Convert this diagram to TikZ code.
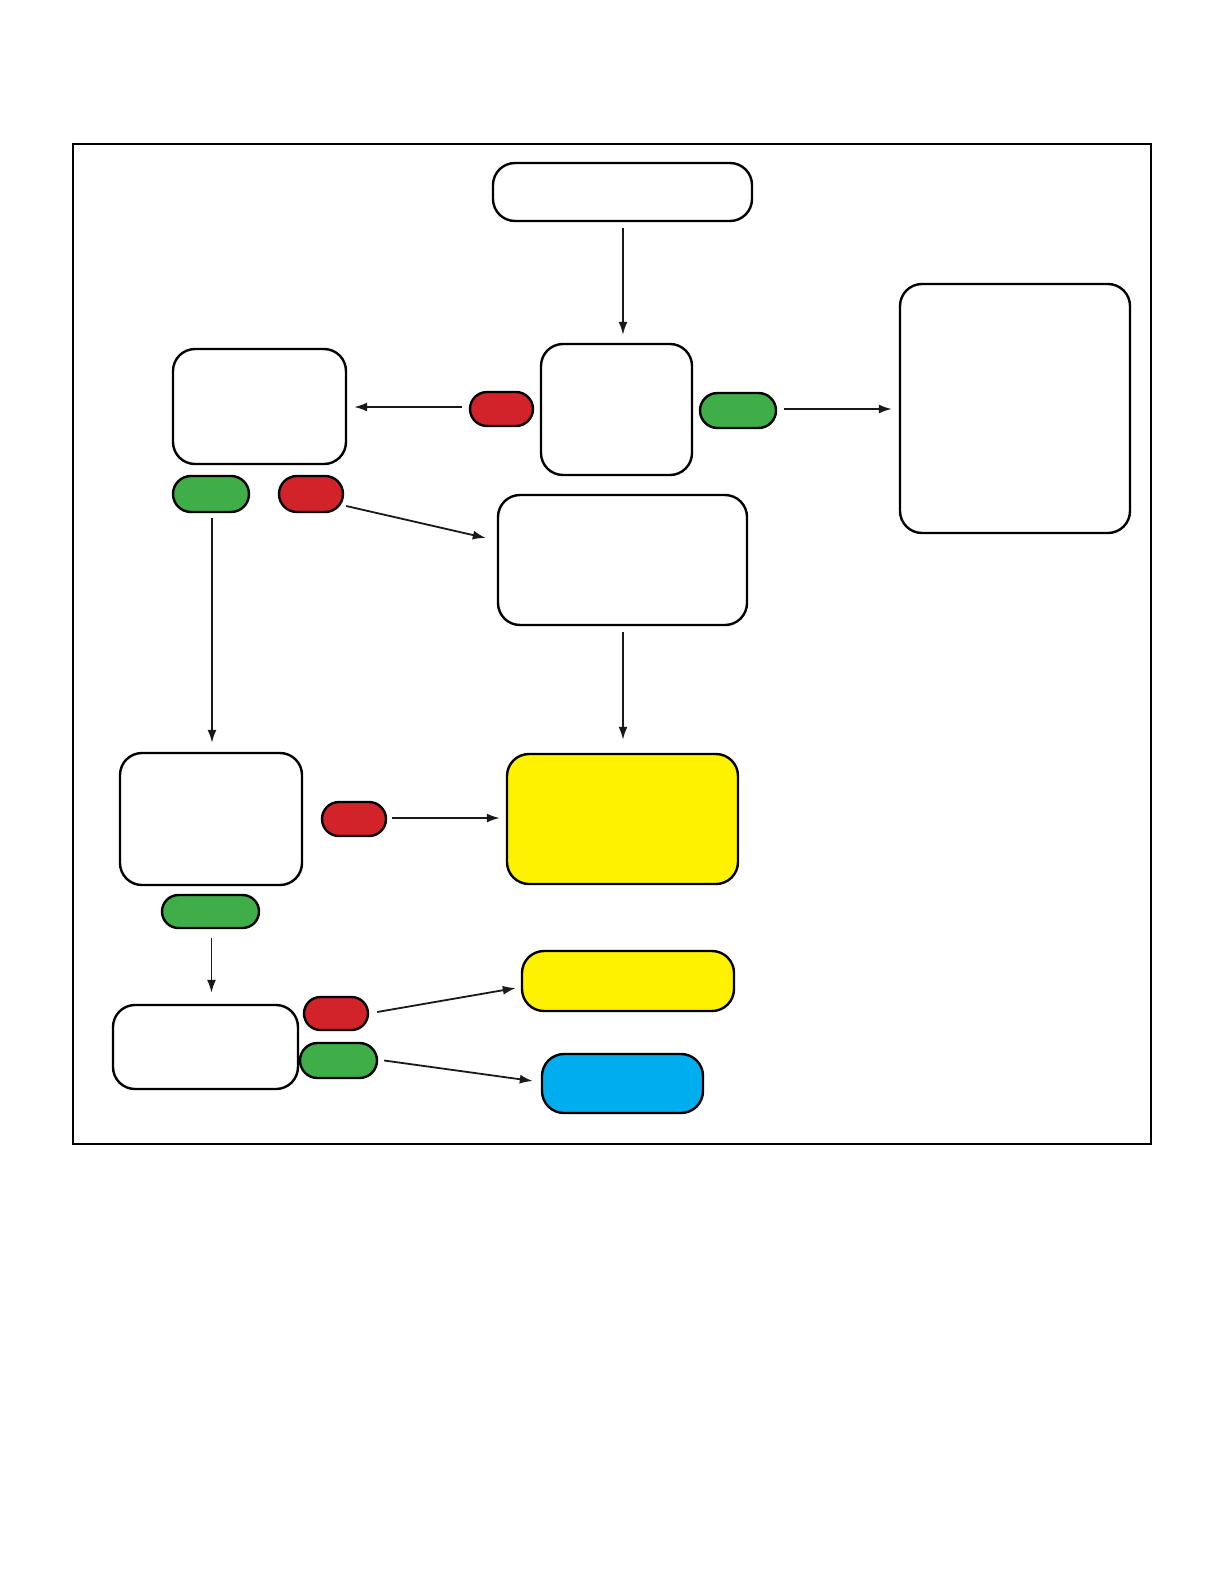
\documentclass[tikz,border=0pt]{standalone}
\usetikzlibrary{arrows.meta,shapes.misc,calc}
\definecolor{pred}{HTML}{D2232A}
\definecolor{pgreen}{HTML}{3FAE49}
\definecolor{pyellow}{HTML}{FFF200}
\definecolor{pblue}{HTML}{00AEEF}
\tikzset{
  box/.style={draw=black,line width=1.2pt,rounded corners=11pt,inner sep=0pt,fill=white},
  pill/.style={draw=black,line width=1.2pt,rounded rectangle,inner sep=0pt},
  redpill/.style={pill,fill=pred},
  greenpill/.style={pill,fill=pgreen},
  arr/.style={-{Latex[length=6.5pt,width=4.5pt]},line width=0.9pt,draw=black!90}
}
\begin{document}
\begin{tikzpicture}[x=0.5pt,y=-0.5pt]
\useasboundingbox (0,0) rectangle (1224,1584);
\fill[white] (0,0) rectangle (1224,1584);
\draw[line width=0.8pt] (73,144) rectangle (1151,1144);

\node[box,minimum width=129.5pt,minimum height=29pt] (top) at (622.5,192) {};
\node[box,minimum width=75.5pt,minimum height=65.5pt] (center) at (616.5,409.5) {};
\node[redpill,minimum width=31.5pt,minimum height=17pt] (redA) at (501.5,409) {};
\node[box,minimum width=86.5pt,minimum height=57.5pt] (left) at (259.5,406.5) {};
\node[greenpill,minimum width=38pt,minimum height=18pt] (greenB) at (211,494) {};
\node[redpill,minimum width=32pt,minimum height=18pt] (redB) at (311,494) {};
\node[greenpill,minimum width=38pt,minimum height=17.5pt] (greenA) at (738,410.5) {};
\node[box,minimum width=115pt,minimum height=124.5pt] (right) at (1015,408.5) {};
\node[box,minimum width=124.5pt,minimum height=65pt] (mid) at (622.5,560) {};
\node[box,minimum width=91pt,minimum height=66pt] (lefttwo) at (211,819) {};
\node[redpill,minimum width=32pt,minimum height=17pt] (redC) at (354,819) {};
\node[box,fill=pyellow,minimum width=115.5pt,minimum height=65pt] (ybig) at (622.5,819) {};
\node[greenpill,minimum width=48.5pt,minimum height=16.5pt] (greenC) at (210.5,911.5) {};
\node[box,minimum width=92.5pt,minimum height=42pt] (boxthree) at (205.5,1047) {};
\node[redpill,minimum width=32pt,minimum height=16.5pt] (redD) at (336,1013.5) {};
\node[greenpill,minimum width=38.5pt,minimum height=17.5pt] (greenD) at (338.5,1060.5) {};
\node[box,fill=pyellow,minimum width=106pt,minimum height=30pt] (ysmall) at (628,981) {};
\node[box,fill=pblue,minimum width=80.5pt,minimum height=29.5pt] (blue) at (622.5,1083.5) {};

\draw[arr,shorten <=3pt,shorten >=4pt] ([xshift=0.25pt]top.south) -- ([xshift=0.25pt]top.south |- center.north);
\draw[arr,shorten <=3.5pt,shorten >=3.5pt] ($(redA.west)+(0,-2)$) -- ($(left.east)+(0,0.5)$);
\draw[arr,shorten <=3.5pt,shorten >=3.5pt] ($(greenA.east)+(0,-1.5)$) -- ($(right.west)+(0,0.5)$);
\draw[arr] ($(redB.east)+(2,12)$) -- ($(mid.west)+(-11,-22)$);
\draw[arr,shorten <=3pt,shorten >=6.5pt] ([xshift=0.25pt]mid.south) -- ([xshift=0.25pt]mid.south |- ybig.north);
\draw[arr,shorten <=2.5pt,shorten >=4.5pt] ([xshift=0.5pt]greenB.south) -- ([xshift=0.5pt]greenB.south |- lefttwo.north);
\draw[arr,shorten <=2.5pt,shorten >=3pt] ($(redC.east)+(0,-1)$) -- ($(ybig.west)+(0,-1)$);
\draw[arr,shorten <=4.5pt,shorten >=5.5pt] ([xshift=0.5pt]greenC.south) -- ([xshift=0.5pt]greenC.south |- boxthree.north);
\draw[arr] ($(redD.east)+(8,-1.5)$) -- ($(ysmall.west)+(-5,7)$);
\draw[arr] ($(greenD.east)+(6,0)$) -- ($(blue.west)+(-8,-2.5)$);
\end{tikzpicture}
\end{document}
